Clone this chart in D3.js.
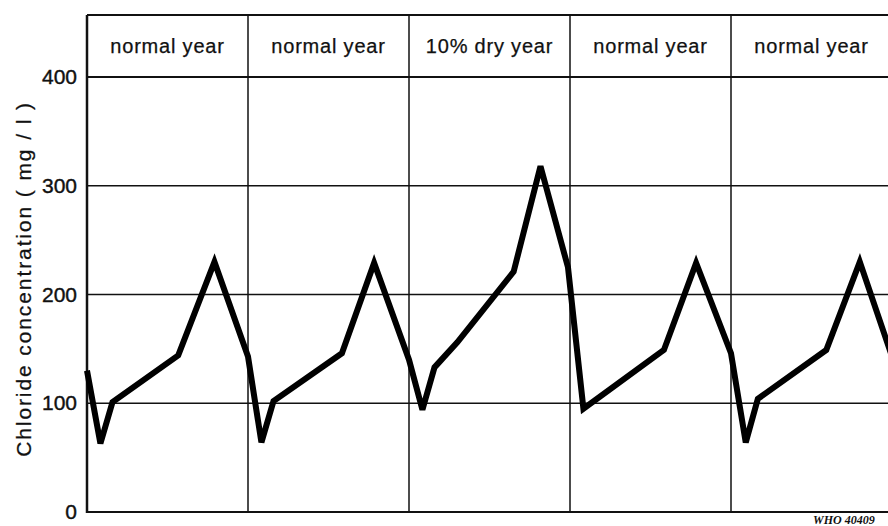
<!DOCTYPE html>
<html>
<head>
<meta charset="utf-8">
<script src="https://cdn.jsdelivr.net/npm/d3@7"></script>
<style>
  html, body { margin: 0; padding: 0; background: #fff; }
  svg { display: block; }
</style>
</head>
<body>
<svg id="chart" width="888" height="526"></svg>
<script>
// Year columns shown in the header row
const yearLabels = ["normal year", "normal year", "10% dry year", "normal year", "normal year"];

// Chloride concentration (mg/l) through five years; time in months from start
const months = [0, 1.0, 1.9, 6.8, 9.5, 12,
                13.0, 13.9, 19.0, 21.4, 24,
                25.0, 25.9, 27.6, 31.8, 33.8, 35.85,
                37.0, 43.0, 45.4, 48,
                49.1, 50.0, 55.1, 57.6, 60];
const chloride = [130, 63, 101, 144, 230, 143,
                  64, 102, 146, 229, 140,
                  94, 133, 156, 221, 318, 225,
                  95, 149, 229, 146,
                  64, 104, 149, 230, 143];

// Value axis ticks
const yTicks = [0, 100, 200, 300, 400];
const headerTop = 457;   // upper edge of the label row, in mg/l units
const yearMonths = 12;

const svg = d3.select("#chart");

const x = d3.scaleLinear().domain([0, yearLabels.length * yearMonths]).range([87, 892]);
const y = d3.scaleLinear().domain([0, 400]).range([512, 77]);

const ink = "#111";
const sans = "'Liberation Sans', Arial, sans-serif";

// Horizontal grid lines (header divider at 400 included)
svg.append("g")
  .selectAll("line")
  .data(yTicks.filter(d => d > 0))
  .join("line")
  .attr("x1", x(0)).attr("x2", 888)
  .attr("y1", d => y(d)).attr("y2", d => y(d))
  .attr("stroke", ink)
  .attr("stroke-width", d => d === 400 ? 2 : 1.5);

// Top border of the header row
svg.append("line")
  .attr("x1", x(0)).attr("x2", 888)
  .attr("y1", y(headerTop)).attr("y2", y(headerTop))
  .attr("stroke", ink).attr("stroke-width", 2);

// Year dividers
const bounds = d3.range(1, yearLabels.length).map(i => i * yearMonths);
svg.append("g")
  .selectAll("line")
  .data(bounds)
  .join("line")
  .attr("x1", d => x(d)).attr("x2", d => x(d))
  .attr("y1", y(headerTop)).attr("y2", y(0))
  .attr("stroke", ink).attr("stroke-width", 1.5);

// Baseline and left axis
svg.append("line")
  .attr("x1", x(0)).attr("x2", 888)
  .attr("y1", y(0)).attr("y2", y(0))
  .attr("stroke", ink).attr("stroke-width", 2);
svg.append("line")
  .attr("x1", x(0)).attr("x2", x(0))
  .attr("y1", y(headerTop)).attr("y2", y(0) + 1)
  .attr("stroke", ink).attr("stroke-width", 2.5);

// Tick labels on the value axis
const yAxis = d3.axisLeft(y).tickValues(yTicks).tickSize(0).tickPadding(10);
const gy = svg.append("g").attr("transform", `translate(${x(0)},0)`).call(yAxis);
gy.select(".domain").remove();
gy.selectAll("text")
  .attr("font-family", sans)
  .attr("font-size", 21)
  .attr("stroke", ink)
  .attr("stroke-width", 0.4)
  .attr("fill", ink);

// Header labels, centred in each year column
svg.append("g")
  .selectAll("text")
  .data(yearLabels)
  .join("text")
  .attr("x", (d, i) => x(i * yearMonths + yearMonths / 2))
  .attr("y", (y(headerTop) + y(400)) / 2 + 7)
  .attr("text-anchor", "middle")
  .attr("font-family", sans)
  .attr("font-size", 20)
  .attr("letter-spacing", 0.8)
  .attr("stroke", ink)
  .attr("stroke-width", 0.25)
  .attr("fill", ink)
  .text(d => d);

// Axis title
svg.append("text")
  .attr("transform", "translate(31,279) rotate(-90)")
  .attr("text-anchor", "middle")
  .attr("font-family", sans)
  .attr("font-size", 21)
  .attr("letter-spacing", 1.9)
  .attr("stroke", ink)
  .attr("stroke-width", 0.25)
  .attr("fill", ink)
  .text("Chloride concentration ( mg / l )");

// Concentration curve
const pts = months.map((m, i) => [m, chloride[i]]);
svg.append("path")
  .datum(pts)
  .attr("fill", "none")
  .attr("stroke", "#000")
  .attr("stroke-width", 6)
  .attr("stroke-linejoin", "miter")
  .attr("stroke-miterlimit", 3)
  .attr("d", d3.line().x(d => x(d[0])).y(d => y(d[1])));

// Figure reference number
svg.append("text")
  .attr("x", 813)
  .attr("y", 524)
  .attr("font-family", "'Liberation Serif', 'Times New Roman', serif")
  .attr("font-style", "italic")
  .attr("font-weight", "bold")
  .attr("font-size", 12)
  .attr("fill", ink)
  .text("WHO 40409");
</script>
</body>
</html>
